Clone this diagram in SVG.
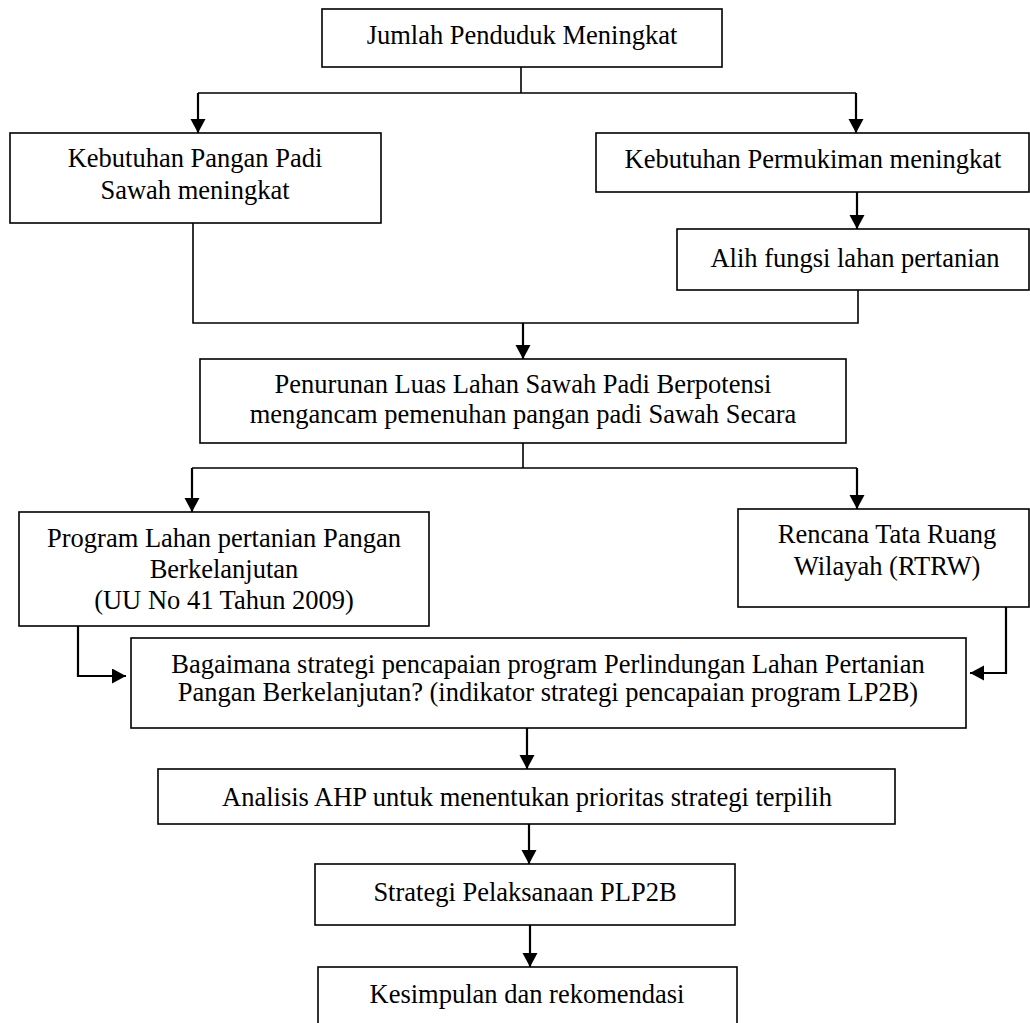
<svg xmlns="http://www.w3.org/2000/svg" width="1030" height="1023" viewBox="0 0 1030 1023">
<style>
  .box{fill:#fff;stroke:#000;stroke-width:1.6}
  .t{font-family:"Liberation Serif","Times New Roman",serif;font-size:26.5px;fill:#000;text-anchor:middle}
  .ln{fill:none;stroke:#000;stroke-width:1.6}
  .ar{fill:none;stroke:#000;stroke-width:2.2;marker-end:url(#ah)}
</style>
<defs>
  <marker id="ah" markerUnits="userSpaceOnUse" markerWidth="16" markerHeight="16" refX="14" refY="7.5" orient="auto">
    <path d="M0,0 L14,7.5 L0,15 z" fill="#000"/>
  </marker>
</defs>
<rect width="1030" height="1023" fill="#fff"/>
<g id="connectors">
  <path class="ln" d="M521,67 V93 M198,93 H856"/>
  <path class="ar" d="M198,93 V133"/>
  <path class="ar" d="M856,93 V133"/>
  <path class="ar" d="M857,192 V229"/>
  <path class="ln" d="M193,223 V323 H858 V290"/>
  <path class="ar" d="M523,323 V359"/>
  <path class="ln" d="M523,443 V468 M192,468 H857"/>
  <path class="ar" d="M192,468 V512"/>
  <path class="ar" d="M857,468 V509"/>
  <path class="ar" d="M78,626 V676 H126"/>
  <path class="ar" d="M1006,607 V673 H970"/>
  <path class="ar" d="M527,728 V769"/>
  <path class="ar" d="M529,824 V864"/>
  <path class="ar" d="M530,925 V967"/>
</g>
<g id="n1"><rect class="box" x="322" y="9" width="400" height="58"/><text class="t" x="522" y="44">Jumlah Penduduk Meningkat</text></g>
<g id="n2"><rect class="box" x="10" y="133" width="371" height="90"/><text class="t" x="195" y="167">Kebutuhan Pangan Padi</text><text class="t" x="195" y="199">Sawah meningkat</text></g>
<g id="n3"><rect class="box" x="596" y="133" width="433" height="59"/><text class="t" x="813" y="168">Kebutuhan Permukiman meningkat</text></g>
<g id="n4"><rect class="box" x="677" y="229" width="352" height="61"/><text class="t" x="855" y="267">Alih fungsi lahan pertanian</text></g>
<g id="n5"><rect class="box" x="200" y="359" width="646" height="84"/><text class="t" x="523" y="393">Penurunan Luas Lahan Sawah Padi Berpotensi</text><text class="t" x="523" y="423">mengancam pemenuhan pangan padi Sawah Secara</text></g>
<g id="n6"><rect class="box" x="19" y="512" width="410" height="114"/><text class="t" x="224" y="547">Program Lahan pertanian Pangan</text><text class="t" x="224" y="578">Berkelanjutan</text><text class="t" x="224" y="609">(UU No 41 Tahun 2009)</text></g>
<g id="n7"><rect class="box" x="738" y="509" width="291" height="98"/><text class="t" x="887" y="543">Rencana Tata Ruang</text><text class="t" x="887" y="575">Wilayah (RTRW)</text></g>
<g id="n8"><rect class="box" x="131" y="638" width="835" height="90"/><text class="t" x="548" y="673">Bagaimana strategi pencapaian program Perlindungan Lahan Pertanian</text><text class="t" x="548" y="701">Pangan Berkelanjutan? (indikator strategi pencapaian program LP2B)</text></g>
<g id="n9"><rect class="box" x="158" y="769" width="737" height="55"/><text class="t" x="527" y="806">Analisis AHP untuk menentukan prioritas strategi terpilih</text></g>
<g id="n10"><rect class="box" x="315" y="864" width="420" height="61"/><text class="t" x="525" y="901">Strategi Pelaksanaan PLP2B</text></g>
<g id="n11"><rect class="box" x="318" y="967" width="419" height="70"/><text class="t" x="527" y="1003">Kesimpulan dan rekomendasi</text></g>
</svg>
